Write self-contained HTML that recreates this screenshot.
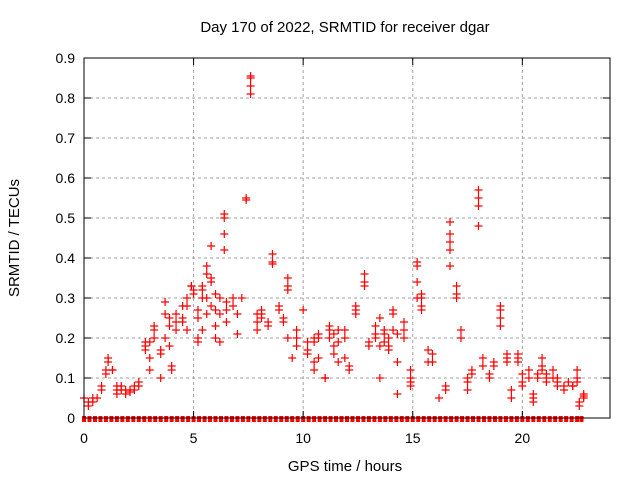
<!DOCTYPE html>
<html><head><meta charset="utf-8"><style>
body{margin:0;background:#fff}
svg{display:block;font-family:"Liberation Sans",sans-serif}
</style></head><body>
<svg id="chart" width="640" height="480" viewBox="0 0 640 480" xmlns="http://www.w3.org/2000/svg">
<rect width="640" height="480" fill="#fff"/>
<text x="345" y="32" font-size="15" text-anchor="middle">Day 170 of 2022, SRMTID for receiver dgar</text>
<text x="345" y="471" font-size="15" text-anchor="middle">GPS time / hours</text>
<text transform="translate(19,238) rotate(-90)" font-size="15" text-anchor="middle">SRMTID / TECUs</text>
<g id="grid"></g>
<g id="marks"></g>
<rect x="84" y="58" width="526" height="360" fill="none" stroke="#000" stroke-width="1"/>
<g id="ticks"></g>
</svg>
<script>
const xTicks=[0,5,10,15,20];
const yTicks=[0,0.1,0.2,0.3,0.4,0.5,0.6,0.7,0.8,0.9];
const yTickLabels=["0","0.1","0.2","0.3","0.4","0.5","0.6","0.7","0.8","0.9"];
const hours=[0.0,0.2,0.2,0.4,0.4,0.6,0.8,0.8,1.0,1.0,1.1,1.1,1.3,1.3,1.5,1.5,1.5,1.7,1.7,1.9,1.9,2.1,2.1,2.3,2.3,2.5,2.5,2.8,2.8,2.8,3.0,3.0,3.0,3.2,3.2,3.2,3.5,3.5,3.5,3.7,3.7,3.7,3.9,3.9,3.9,4.0,4.0,4.2,4.2,4.2,4.5,4.5,4.5,4.7,4.7,4.7,4.9,4.9,5.0,5.0,5.2,5.2,5.2,5.2,5.4,5.4,5.4,5.4,5.6,5.6,5.6,5.6,5.8,5.8,5.8,5.8,6.0,6.0,6.0,6.0,6.2,6.2,6.2,6.4,6.4,6.4,6.4,6.5,6.5,6.5,6.8,6.8,7.0,7.0,7.2,7.4,7.4,7.6,7.6,7.6,7.6,7.9,7.9,7.9,8.1,8.1,8.1,8.4,8.4,8.6,8.6,8.6,8.9,8.9,9.1,9.1,9.3,9.3,9.3,9.3,9.5,9.7,9.7,9.7,10.0,10.2,10.2,10.2,10.5,10.5,10.5,10.5,10.7,10.7,10.7,11.0,11.0,11.2,11.2,11.2,11.4,11.4,11.4,11.6,11.6,11.6,11.9,11.9,11.9,12.1,12.1,12.4,12.4,12.4,12.8,12.8,12.8,13.0,13.0,13.3,13.3,13.3,13.5,13.5,13.5,13.7,13.7,13.7,13.9,13.9,13.9,14.1,14.1,14.1,14.3,14.3,14.3,14.6,14.6,14.6,14.9,14.9,14.9,14.9,15.2,15.2,15.2,15.2,15.4,15.4,15.4,15.4,15.7,15.7,15.9,15.9,16.2,16.5,16.5,16.7,16.7,16.7,16.7,16.7,17.0,17.0,17.0,17.2,17.2,17.5,17.5,17.5,17.7,17.7,18.0,18.0,18.0,18.0,18.2,18.2,18.5,18.5,18.7,18.7,19.0,19.0,19.0,19.0,19.3,19.3,19.3,19.5,19.5,19.8,19.8,19.8,20.0,20.0,20.0,20.3,20.3,20.5,20.5,20.5,20.7,20.7,20.9,20.9,20.9,21.1,21.1,21.1,21.4,21.4,21.6,21.6,21.6,21.9,21.9,22.1,22.3,22.3,22.5,22.5,22.5,22.6,22.6,22.8,22.8,22.8];
const srmtid=[0.05,0.04,0.03,0.04,0.05,0.05,0.08,0.07,0.11,0.12,0.14,0.15,0.12,0.12,0.08,0.07,0.06,0.08,0.07,0.07,0.06,0.07,0.065,0.07,0.08,0.08,0.09,0.19,0.17,0.18,0.19,0.15,0.12,0.22,0.23,0.2,0.17,0.16,0.1,0.29,0.26,0.2,0.23,0.25,0.18,0.13,0.12,0.24,0.26,0.22,0.25,0.28,0.24,0.3,0.28,0.22,0.33,0.33,0.32,0.31,0.27,0.25,0.2,0.19,0.3,0.33,0.32,0.22,0.38,0.36,0.3,0.26,0.43,0.34,0.35,0.28,0.31,0.27,0.23,0.2,0.26,0.19,0.3,0.42,0.46,0.5,0.51,0.27,0.24,0.29,0.28,0.3,0.21,0.26,0.3,0.55,0.545,0.85,0.855,0.83,0.81,0.26,0.24,0.22,0.27,0.26,0.25,0.23,0.24,0.41,0.39,0.385,0.27,0.28,0.24,0.25,0.35,0.33,0.32,0.2,0.15,0.22,0.2,0.18,0.27,0.19,0.17,0.16,0.2,0.19,0.14,0.12,0.2,0.21,0.15,0.1,0.1,0.22,0.23,0.2,0.21,0.18,0.16,0.22,0.19,0.14,0.22,0.2,0.15,0.13,0.12,0.28,0.27,0.26,0.36,0.34,0.33,0.19,0.18,0.21,0.2,0.23,0.25,0.1,0.18,0.22,0.21,0.19,0.2,0.18,0.17,0.27,0.26,0.22,0.21,0.14,0.06,0.24,0.22,0.2,0.12,0.1,0.09,0.08,0.39,0.38,0.34,0.3,0.28,0.27,0.3,0.31,0.17,0.14,0.16,0.14,0.05,0.07,0.08,0.44,0.49,0.46,0.42,0.38,0.33,0.31,0.3,0.22,0.2,0.1,0.09,0.07,0.11,0.12,0.57,0.55,0.53,0.48,0.15,0.13,0.1,0.11,0.14,0.13,0.27,0.28,0.25,0.23,0.15,0.16,0.14,0.07,0.05,0.14,0.15,0.16,0.11,0.09,0.08,0.12,0.1,0.06,0.05,0.04,0.11,0.1,0.15,0.13,0.12,0.11,0.09,0.1,0.12,0.1,0.1,0.09,0.08,0.07,0.08,0.09,0.08,0.08,0.12,0.1,0.09,0.04,0.03,0.06,0.055,0.05];
const zeroHours=[0,0.25,0.5,0.75,1,1.25,1.5,1.75,2,2.25,2.5,2.75,3,3.25,3.5,3.75,4,4.25,4.5,4.75,5,5.25,5.5,5.75,6,6.25,6.5,6.75,7,7.25,7.5,7.75,8,8.25,8.5,8.75,9,9.25,9.5,9.75,10,10.25,10.5,10.75,11,11.25,11.5,11.75,12,12.25,12.5,12.75,13,13.25,13.5,13.75,14,14.25,14.5,14.75,15,15.25,15.5,15.75,16,16.25,16.5,16.75,17,17.25,17.5,17.75,18,18.25,18.5,18.75,19,19.25,19.5,19.75,20,20.25,20.5,20.75,21,21.25,21.5,21.75,22,22.25,22.5,22.7];

const X0=84,X1=610,Y0=418,Y1=58,XMAX=24,YMAX=0.9;
const xs=h=>X0+(X1-X0)*h/XMAX;
const ys=v=>Y0-(Y0-Y1)*v/YMAX;
const NS="http://www.w3.org/2000/svg";
function mk(tag,attrs,parent){const e=document.createElementNS(NS,tag);for(const k in attrs)e.setAttribute(k,attrs[k]);parent.appendChild(e);return e;}
const grid=document.getElementById('grid'),ticks=document.getElementById('ticks'),marks=document.getElementById('marks');
yTicks.forEach((v,i)=>{
  const y=ys(v);
  if(i>0&&i<yTicks.length-1){const g=mk('line',{x1:X0,x2:X1,y1:y,y2:y,stroke:'#a0a0a0','stroke-dasharray':'3,3'},grid);
  
  }
  mk('line',{x1:X0,x2:X0+7,y1:y,y2:y,stroke:'#000'},ticks);
  mk('line',{x1:X1-7,x2:X1,y1:y,y2:y,stroke:'#000'},ticks);
  const t=mk('text',{x:75,y:y+5,'font-size':14,'text-anchor':'end'},ticks);
  t.textContent=yTickLabels[i];
  
  
});
xTicks.forEach(h=>{
  const x=xs(h);
  if(h>0){const g=mk('line',{x1:x,x2:x,y1:Y1,y2:Y0,stroke:'#a0a0a0','stroke-dasharray':'3,3'},grid);
  
  }
  mk('line',{x1:x,x2:x,y1:Y0,y2:Y0-7,stroke:'#000'},ticks);
  mk('line',{x1:x,x2:x,y1:Y1,y2:Y1+7,stroke:'#000'},ticks);
  const t=mk('text',{x:x,y:443,'font-size':14,'text-anchor':'middle'},ticks);
  t.textContent=String(h);
  
  
});
function plus(h,v,name){
  const x=xs(h),y=ys(v);
  const p=mk('path',{d:`M${x-4} ${y}H${x+4}M${x} ${y-4}V${y+4}`,stroke:'#ff0000','stroke-width':1.2,fill:'none'},marks);
  
  
}
zeroHours.forEach(h=>{
  const r=mk('rect',{x:xs(h)-2,y:ys(0)-2,width:4,height:6,fill:'#ff0000'},marks);
  
  
});
hours.forEach((h,i)=>plus(h,srmtid[i],'srmtid-point'));
</script>
</body></html>
